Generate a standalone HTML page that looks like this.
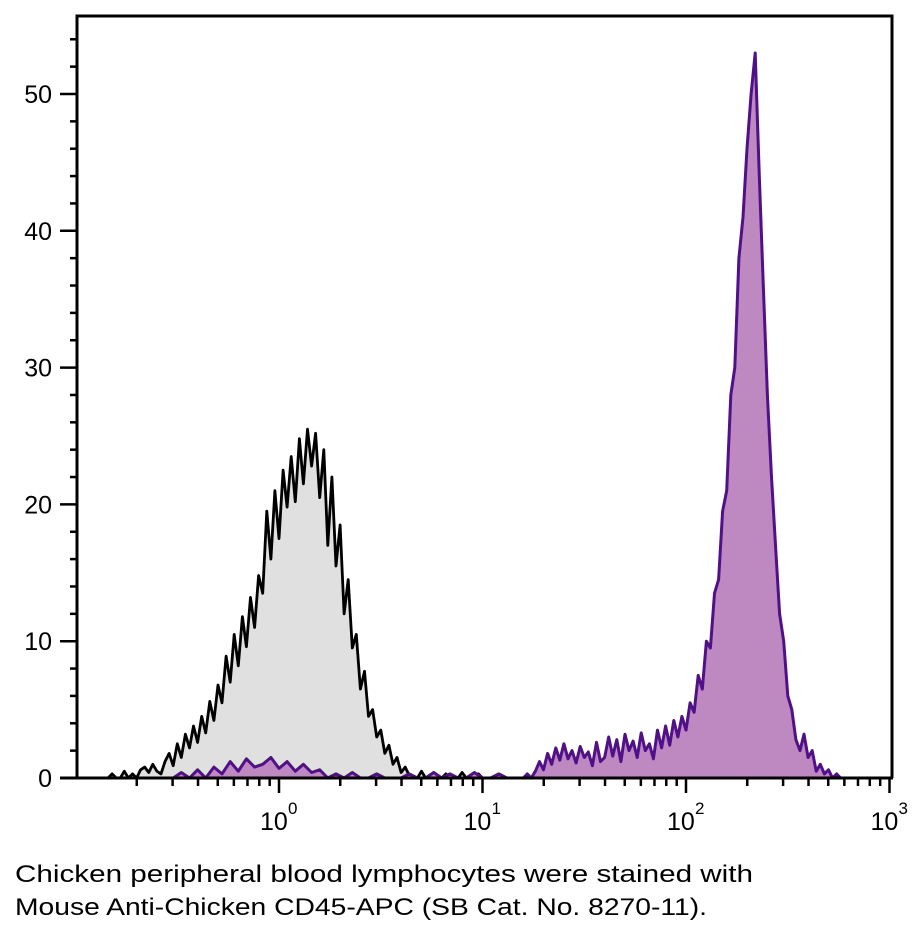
<!DOCTYPE html>
<html><head><meta charset="utf-8"><style>
html,body{margin:0;padding:0;background:#fff;}
svg{display:block;font-family:"Liberation Sans",sans-serif;}
</style></head><body>
<svg id="chart" width="918" height="933" viewBox="0 0 918 933" xmlns="http://www.w3.org/2000/svg">
<g id="marks"></g>
<g id="axes"></g>
<text x="15" y="882" font-size="24" textLength="738" lengthAdjust="spacingAndGlyphs">Chicken peripheral blood lymphocytes were stained with</text>
<text x="15" y="915" font-size="24" textLength="692" lengthAdjust="spacingAndGlyphs">Mouse Anti-Chicken CD45-APC (SB Cat. No. 8270-11).</text>
</svg>
<script>
// Data
const blackStart = -0.84, blackStep = 0.02;
const blackCounts = [0,0.3,0,0,0.5,0,0.3,0,0.6,0.8,0.4,1,0.5,0.3,1.2,1.8,0.9,
 2.5,1.5,3.2,2.2,3.8,2.6,4.5,3.3,5.6,4.2,6.8,
 5.5,8.9,7,10.5,8.2,11.8,9.6,13.2,11,14.8,
 13.5,19.5,16,21,17.5,22.5,19.8,23.5,20.2,24.8,
 21.5,25.5,22.8,25.2,20.5,24,17,22,15.5,18.5,
 12,14.5,9.5,10.5,6.5,7.8,4.5,5,3,3.5,
 1.8,2.4,1,1.5,0.4,0.8,0.2,0,
 0,0.5,0,0,0.4,0,0,0.3,0,0,0,0.4,0,0,0,0.3,0];
const purpleLowStart = -0.60, purpleLowStep = 0.04;
const purpleLowCounts = [0,0,0,0.4,0,0.6,0,0.8,0.3,1.2,0.5,1.4,0.8,1.0,1.5,0.7,1.2,0.5,1.0,0.4,0.6,0,0.3,0,0.4,0,0,0.3,0,0,0,0.3,0,0,0.4,0,0.3,0,0,0.4,0,0,0.3,0,0];
const purpleStart = 1.20, purpleStep = 0.02;
const purpleCounts = [0,0.3,0,0.5,1.2,0.6,1.8,1,2.2,1.3,
 2.5,1.4,2,1.1,2.3,1.5,1.9,0.9,2.6,1.2,
 1.5,3,1.6,2.8,1.2,3.2,2,2.7,1.5,3.3,
 2,2.5,1.4,3.5,2.2,3.8,2.4,4.2,3,4.5,
 3.5,5.5,4.8,7.5,6.5,10,9.5,13.5,14.5,19.5,
 21,28,30,38,41,46,50,53,44,36,
 28,22,17,12,10,6,5,2.8,2,3.2,
 1.5,2,0.5,1,0.3,0.6,0,0.3,0,0,0];
const yTicks = [0,10,20,30,40,50];
const xDecades = [0,1,2,3];

const NS="http://www.w3.org/2000/svg";
const X0=279, DEC=203.5, Y0=778, YU=13.68;
const xs = l => X0 + l*DEC;
const ys = v => Y0 - v*YU;
const marks=document.getElementById('marks'), axes=document.getElementById('axes');
function mk(tag, parent, attrs){const e=document.createElementNS(NS,tag);for(const k in attrs)e.setAttribute(k,attrs[k]);parent.appendChild(e);return e;}

function pts(start, step, arr){return arr.map((v,i)=>[xs(start+i*step), ys(v)]);}
function linePath(p){return p.map((q,i)=>(i?'L':'M')+q[0].toFixed(1)+','+q[1].toFixed(1)).join(' ');}
function areaPath(p){return linePath(p)+` L${p[p.length-1][0].toFixed(1)},${Y0} L${p[0][0].toFixed(1)},${Y0} Z`;}

const bp = pts(blackStart, blackStep, blackCounts);
const pp = pts(purpleLowStart, purpleLowStep, purpleLowCounts).concat(pts(purpleStart, purpleStep, purpleCounts));

let e;
e=mk('path',marks,{d:areaPath(bp),fill:'#e0e0e0',stroke:'none'});


e=mk('path',marks,{d:linePath(bp),fill:'none',stroke:'#000','stroke-width':2.8,'stroke-linejoin':'round'});


e=mk('path',marks,{d:areaPath(pp),fill:'#be88c0',stroke:'none'});


e=mk('path',marks,{d:linePath(pp),fill:'none',stroke:'#521088','stroke-width':3,'stroke-linejoin':'round'});



// Frame
e=mk('path',axes,{d:`M77,${Y0} L77,16 L892,16 L892,${Y0}`,fill:'none',stroke:'#000','stroke-width':3});


e=mk('line',axes,{x1:60,y1:Y0,x2:893,y2:Y0,stroke:'#000','stroke-width':3});



// Y ticks
for(let v=2; v<=54; v+=2){
  if(v%10===0) continue;
  e=mk('line',axes,{x1:70,y1:ys(v),x2:77,y2:ys(v),stroke:'#000','stroke-width':2.5});
  
  
}
yTicks.forEach(v=>{
  e=mk('line',axes,{x1:60,y1:ys(v),x2:77,y2:ys(v),stroke:'#000','stroke-width':2.5});
  
  
  e=mk('text',axes,{x:52,y:ys(v)+9,'font-size':25,'text-anchor':'end'});
  e.textContent=String(v);
  
  
});

// X ticks
for(let d=-1; d<3; d++){
  for(let k=2;k<=9;k++){
    const l=d+Math.log10(k), x=xs(l);
    if(x<78) continue;
    e=mk('line',axes,{x1:x,y1:Y0,x2:x,y2:Y0+8,stroke:'#000','stroke-width':2.5});
    
    
  }
}
xDecades.forEach(d=>{
  const x=xs(d);
  e=mk('line',axes,{x1:x,y1:Y0,x2:x,y2:Y0+15,stroke:'#000','stroke-width':2.5});
  
  
  e=mk('text',axes,{x:x-19,y:830,'font-size':25});
  e.textContent='10';
  
  
  e=mk('text',axes,{x:x+9,y:814,'font-size':17});
  e.textContent=String(d);
  
  
});
</script>
</body></html>
